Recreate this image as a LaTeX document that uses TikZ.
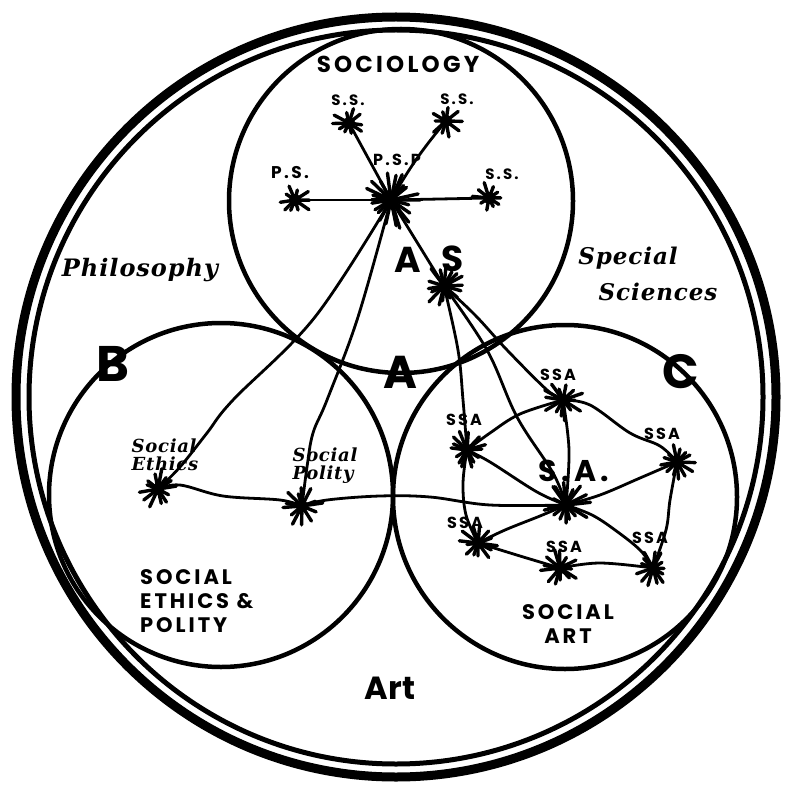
\documentclass[tikz,border=0pt]{standalone}
\usepackage{fontspec}
\newfontfamily\capsf{Poppins}[LetterSpace=14]
\newfontfamily\capst{Poppins}
\newfontfamily\handf{DejaVu Serif}[LetterSpace=4]
\usetikzlibrary{calc}
\begin{document}
\begin{tikzpicture}[x=1pt,y=-1pt,
  ring/.style={line width=4.5pt},
  link/.style={line width=2.8pt,line cap=round,line join=round},
  caps/.style={font=\capsf\bfseries\fontsize{#1}{#1}\selectfont,inner sep=0pt},
  bigcap/.style={font=\capst\bfseries\fontsize{#1}{#1}\selectfont,inner sep=0pt},
  hand/.style={font=\handf\bfseries\itshape\fontsize{#1}{#1}\selectfont,inner sep=0pt},
  pics/burst/.style 2 args={code={
    \fill (0,0) circle[radius=6pt];
    \foreach \i in {1,...,#2}{
      \pgfmathsetmacro\ang{\i*360/#2+10*rand}
      \pgfmathsetmacro\len{#1*(0.55+0.45*rnd)}
      \draw[line width=3.4pt,line cap=round] (0,0) -- (\ang:\len);
    }
  }}]
\pgfmathsetseed{7}
\useasboundingbox (0,0) rectangle (784,786);
\fill[white] (0,0) rectangle (784,786);
% outer double ring
\draw[line width=9pt] (396,397) circle[radius=380];
\draw[line width=5pt] (396,397) circle[radius=367];
% three circles
\draw[ring] (401,201) circle[radius=172];
\draw[ring] (221,495) circle[radius=172];
\draw[ring] (565,497) circle[radius=172];
% centres
\coordinate (psp) at (391,200);
\coordinate (ssTL) at (349,123);
\coordinate (ssTR) at (446,121);
\coordinate (ps) at (295,200);
\coordinate (ssR) at (489,198);
\coordinate (as) at (444,286);
\coordinate (se) at (158,489);
\coordinate (sp) at (302,506);
\coordinate (ssaT) at (563,400);
\coordinate (ssaL) at (467,450);
\coordinate (ssaR) at (677,462);
\coordinate (sa) at (566,505);
\coordinate (ssaLL) at (478,543);
\coordinate (ssaB) at (560,568);
\coordinate (ssaLR) at (653,568);
% connectors
\draw[link] (psp) -- (ssTL);
\draw[link] (psp) to[bend left=5] (ssTR);
\draw[link] (psp) -- (ps);
\draw[link] (psp) -- (ssR);
\draw[link] (psp) -- (as);
\draw[link] plot[smooth,tension=0.6] coordinates {(psp) (315,317) (233,400) (207,433) (180,467) (se)};
\draw[link] plot[smooth,tension=0.6] coordinates {(psp) (358,317) (327,400) (313,433) (307,467) (sp)};
\draw[link] plot[smooth,tension=0.6] coordinates {(se) (180,485) (223,496) (280,500) (sp)};
\draw[link] plot[smooth,tension=0.6] coordinates {(sp) (327,500) (380,496) (430,497) (490,505) (sa)};
\draw[link] plot[smooth,tension=0.6] coordinates {(as) (458,350) (463,400) (ssaL)};
\draw[link] plot[smooth,tension=0.6] coordinates {(as) (487,350) (517,417) (553,473) (sa)};
\draw[link] plot[smooth,tension=0.6] coordinates {(as) (475,315) (507,350) (547,390) (ssaT)};
\draw[link] plot[smooth,tension=0.6] coordinates {(ssaL) (490,433) (520,414) (ssaT)};
\draw[link] plot[smooth,tension=0.6] coordinates {(ssaL) (490,462) (537,492) (sa)};
\draw[link] plot[smooth,tension=0.6] coordinates {(ssaL) (463,483) (466,515) (ssaLL)};
\draw[link] plot[smooth,tension=0.6] coordinates {(ssaT) (569,450) (sa)};
\draw[link] plot[smooth,tension=0.6] coordinates {(ssaT) (590,405) (630,433) (660,446) (ssaR)};
\draw[link] plot[smooth,tension=0.6] coordinates {(ssaR) (640,478) (600,495) (sa)};
\draw[link] plot[smooth,tension=0.6] coordinates {(ssaR) (670,500) (666,530) (ssaLR)};
\draw[link] plot[smooth,tension=0.6] coordinates {(sa) (540,516) (505,530) (ssaLL)};
\draw[link] plot[smooth,tension=0.6] coordinates {(sa) (592,515) (615,530) (640,550) (ssaLR)};
\draw[link] plot[smooth,tension=0.6] coordinates {(ssaLL) (520,556) (ssaB)};
\draw[link] plot[smooth,tension=0.6] coordinates {(ssaB) (600,563) (ssaLR)};
% bursts
\pic at (psp) {burst={30}{22}};
\pic at (ssTL) {burst={17}{10}};
\pic at (ssTR) {burst={17}{10}};
\pic at (ps) {burst={17}{10}};
\pic at (ssR) {burst={17}{10}};
\pic at (as) {burst={23}{16}};
\pic at (se) {burst={21}{13}};
\pic at (sp) {burst={21}{13}};
\pic at (ssaT) {burst={21}{14}};
\pic at (ssaL) {burst={21}{14}};
\pic at (ssaR) {burst={19}{13}};
\pic at (sa) {burst={25}{16}};
\pic at (ssaLL) {burst={20}{13}};
\pic at (ssaB) {burst={20}{13}};
\pic at (ssaLR) {burst={19}{13}};
% labels
\node[caps=23] (tsoc) at (398,64) {SOCIOLOGY};
\node[caps=15] (lssTL) at (348,100) {S.S.};
\node[caps=15] (lssTR) at (457,99) {S.S.};
\node[caps=16] (lpsp) at (397,160) {P.S.P};
\node[caps=17] (lps) at (290,173) {P.S.};
\node[caps=15] (lssR) at (502,174) {S.S.};
\node[bigcap=36] (lA1) at (408,260) {A};
\node[bigcap=36] (lS1) at (453,259) {S};
\node[bigcap=50] (lB) at (113,364) {B};
\node[bigcap=48] (lC) at (681,372) {C};
\node[bigcap=46] (lA2) at (400,372) {A};
\node[hand=24] (tphil) at (140,270) {Philosophy};
\node[hand=23] (tspec) at (628,258) {Special};
\node[hand=23] (tsci) at (658,292) {Sciences};
\node[hand=18,align=left] (lse) at (165,455) {Social\\Ethics};
\node[hand=18,align=left] (lsp) at (325,466) {Social\\Polity};
\node[caps=16] (lssaT) at (558,375) {SSA};
\node[caps=16] (lssaL) at (464,420) {SSA};
\node[caps=16] (lssaR) at (662,434) {SSA};
\node[caps=30] (lsa) at (574,471) {S.A.};
\node[caps=16] (lssaLL) at (465,523) {SSA};
\node[caps=16] (lssaB) at (564,547) {SSA};
\node[caps=16] (lssaLR) at (650,538) {SSA};
\node[caps=21,align=left,anchor=north west] (tsep) at (140,569) {SOCIAL\\[3pt]ETHICS \&\\[3pt]POLITY};
\node[caps=21,align=center] (tsart) at (568,624) {SOCIAL\\[3pt]ART};
\node[bigcap=32] (tart) at (390,688) {Art};
\end{tikzpicture}
\end{document}
